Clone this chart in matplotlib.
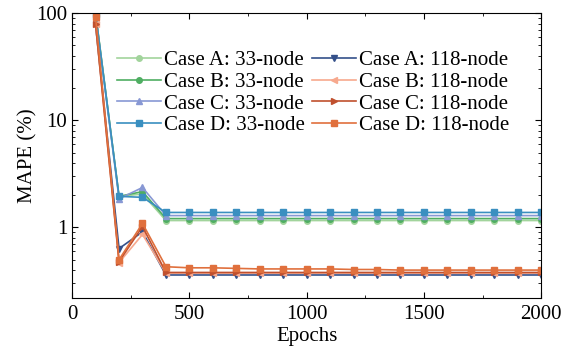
import matplotlib
matplotlib.use("Agg")
import matplotlib.pyplot as plt
from matplotlib.ticker import FixedLocator, FixedFormatter, MultipleLocator

plt.rcParams['font.family'] = ['Liberation Serif', 'DejaVu Serif']
plt.rcParams['mathtext.fontset'] = 'stix'

epochs = [100, 200, 300, 400, 500, 600, 700, 800, 900, 1000, 1100, 1200, 1300,
          1400, 1500, 1600, 1700, 1800, 1900, 2000]

a33 = [100, 1.95, 2.05] + [1.16] * 17
b33 = [100, 1.95, 2.16] + [1.21] * 17
c33 = [96, 1.85, 2.36] + [1.29] * 17
d33 = [98, 1.95, 1.91] + [1.38] * 17
a118 = [78, 0.635, 0.91] + [0.36] * 17
b118 = [80, 0.47, 0.86] + [0.375] * 17
c118 = [79, 0.48, 1.02] + [0.38] * 17
d118 = [92, 0.50, 1.09, 0.43, 0.42, 0.42, 0.415, 0.41, 0.41, 0.41, 0.41, 0.405,
        0.405, 0.40, 0.40, 0.40, 0.40, 0.40, 0.40, 0.40]

series = [
    ("Case A: 33-node", a33, '#a2d49c', 'o'),
    ("Case B: 33-node", b33, '#4fae62', 'o'),
    ("Case C: 33-node", c33, '#8898d4', '^'),
    ("Case D: 33-node", d33, '#3a8fc0', 's'),
    ("Case A: 118-node", a118, '#34508a', 'v'),
    ("Case B: 118-node", b118, '#f7a98e', '<'),
    ("Case C: 118-node", c118, '#c0502e', '>'),
    ("Case D: 118-node", d118, '#e0703d', 's'),
]

FS = 15

fig, ax = plt.subplots(figsize=(5.77, 3.46), dpi=100)
fig.subplots_adjust(left=0.125, right=0.938, top=0.962, bottom=0.139)

for label, vals, col, mk in series:
    ax.plot(epochs, vals, color=col, marker=mk, markersize=4, linewidth=1.2, label=label)

ax.set_yscale('log')
ax.set_ylim(0.22, 100)
ax.set_xlim(0, 2000)
ax.xaxis.set_major_locator(MultipleLocator(500))
ax.xaxis.set_minor_locator(MultipleLocator(250))
ax.yaxis.set_major_locator(FixedLocator([1, 10, 100]))
ax.yaxis.set_major_formatter(FixedFormatter(['1', '10', '100']))
ax.tick_params(which='both', direction='in', top=True, right=True, labelsize=FS)
ax.tick_params(which='major', length=4)
ax.tick_params(which='minor', length=2.5)
ax.tick_params(axis='x', pad=5)
ax.set_xlabel('Epochs', fontsize=FS, labelpad=2)
ax.set_ylabel('MAPE (%)', fontsize=FS, labelpad=-1)

ax.legend(ncol=2, frameon=False, fontsize=FS, loc='upper left',
          bbox_to_anchor=(0.074, 0.905), handlelength=2.1, handletextpad=0.15,
          labelspacing=0.1, columnspacing=0.35, borderpad=0)

fig.savefig('out.png', dpi=100)
